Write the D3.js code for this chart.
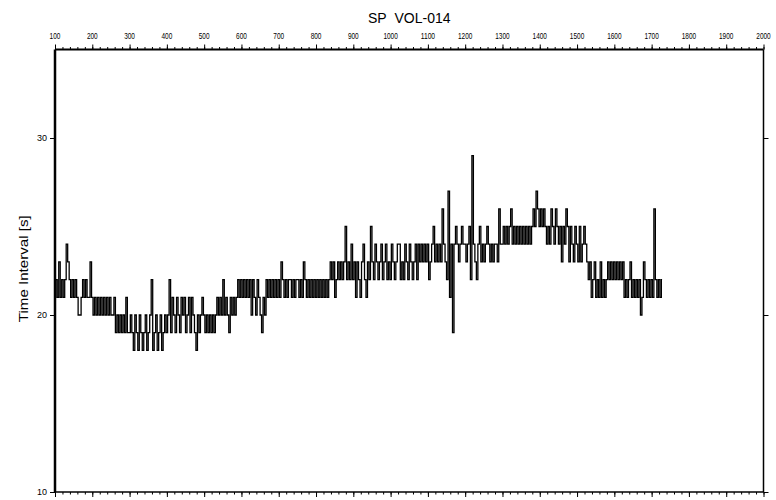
<!DOCTYPE html>
<html>
<head>
<meta charset="utf-8">
<script src="https://cdn.jsdelivr.net/npm/d3@7"></script>
<style>
  html, body { margin: 0; padding: 0; background: #fff; }
  svg { display: block; }
  text { font-family: "Liberation Sans", Arial, Helvetica, sans-serif; fill: #000; }
</style>
</head>
<body>
<svg id="chart" width="776" height="500"></svg>
<script>
// Shot-point spacing of the interval record
const spStart = 100;
const spStep = 4;

// Time interval [s] per sample, one row per 100 shot points
const interval = [
  // 100-196
  21,22,21,23,21,22,21,22,24,23,22,21,22,21,22,21,20,20,21,22,21,22,21,21,23,
  // 200-296
  21,20,21,20,21,20,21,20,21,20,21,20,21,20,20,21,19,20,19,20,19,20,19,21,19,
  // 300-396
  19,20,19,18,20,19,18,20,19,18,19,20,18,19,20,22,18,19,20,18,19,20,18,19,20,
  // 400-496
  19,20,22,19,21,20,19,21,20,19,21,20,21,19,20,21,19,21,20,19,18,20,19,20,21,
  // 500-596
  20,19,20,19,20,19,20,19,20,21,20,21,20,22,20,21,20,19,21,20,21,20,21,22,21,
  // 600-696
  22,21,22,21,22,21,22,20,22,21,20,22,21,20,19,21,20,22,21,22,21,22,21,22,21,
  // 700-796
  22,21,23,22,21,22,21,22,22,21,22,21,22,22,21,22,21,23,22,21,22,21,22,21,22,
  // 800-896
  21,22,21,22,21,22,21,22,21,22,23,22,23,21,22,23,22,23,22,23,25,22,23,22,24,
  // 900-996
  22,23,21,23,22,21,23,24,22,21,23,22,25,23,22,24,23,22,23,24,22,23,24,22,23,
  // 1000-1096
  22,24,23,22,23,24,24,22,23,22,24,23,22,24,23,22,23,24,22,24,23,24,23,24,23,
  // 1100-1196
  24,22,23,24,25,23,24,23,24,23,26,24,23,22,27,21,24,19,24,25,24,23,24,25,24,
  // 1200-1296
  24,23,24,25,22,29,24,23,22,24,25,23,24,23,24,25,24,23,24,23,24,24,23,26,24,
  // 1300-1396
  24,25,24,25,24,25,26,24,25,24,25,24,25,24,25,24,25,24,25,24,25,26,25,27,26,
  // 1400-1496
  25,26,25,26,25,24,25,24,26,25,24,26,25,24,25,23,25,24,26,25,23,25,24,23,25,
  // 1500-1596
  24,23,25,23,24,25,24,23,22,23,21,22,23,21,22,21,23,21,22,21,22,23,22,23,22,
  // 1600-1696
  23,22,23,22,23,22,23,21,22,21,22,23,21,22,21,22,21,22,20,21,23,22,21,22,21,
  // 1700-1728
  22,21,26,22,21,22,21,22
];

const xTickValues = d3.range(100, 2001, 100);
const xMinorValues = d3.range(100, 2001, 20);
const yTickValues = [10, 20, 30];

const title = "SP\u00a0\u00a0VOL-014";
const yLabel = "Time Interval [s]";

const svg = d3.select("#chart");
const frame = { left: 55, right: 763.5, top: 49.5, bottom: 492 };

const x = d3.scaleLinear().domain([100, 2000]).range([frame.left, frame.right]);
const y = d3.scaleLinear().domain([10, 35]).range([frame.bottom, frame.top]);

const samples = interval.map((v, i) => ({ sp: spStart + i * spStep, v }));

// Interval trace, drawn as a stepped record
svg.append("path")
  .datum(samples)
  .attr("fill", "none")
  .attr("stroke", "#000")
  .attr("stroke-width", 1.3)
  .attr("stroke-linejoin", "miter")
  .attr("d", d3.line().curve(d3.curveStep).x(d => x(d.sp)).y(d => y(d.v)));

// Top axis: labelled, with minor ticks
const axisTopG = svg.append("g").attr("transform", `translate(0,${frame.top})`);
axisTopG.call(d3.axisTop(x).tickValues(xMinorValues).tickSize(2.5).tickFormat(""));
axisTopG.append("g").call(d3.axisTop(x).tickValues(xTickValues).tickSize(5).tickFormat(""));
axisTopG.selectAll(".domain").remove();
axisTopG.selectAll("line").attr("stroke", "#000").attr("stroke-width", 1);

svg.append("g").selectAll("text")
  .data(xTickValues)
  .join("text")
  .attr("x", d => x(d))
  .attr("y", 38.5)
  .attr("text-anchor", "middle")
  .attr("font-size", 8.5)
  .attr("textLength", d => String(d).length * 3.6)
  .attr("lengthAdjust", "spacingAndGlyphs")
  .text(d => d);

// Bottom axis: ticks only
const axisBottomG = svg.append("g").attr("transform", `translate(0,${frame.bottom})`);
axisBottomG.call(d3.axisBottom(x).tickValues(xMinorValues).tickSize(2.5).tickFormat(""));
axisBottomG.append("g").call(d3.axisBottom(x).tickValues(xTickValues).tickSize(5).tickFormat(""));
axisBottomG.selectAll(".domain").remove();
axisBottomG.selectAll("line").attr("stroke", "#000").attr("stroke-width", 1);

// Left axis
const axisLeftG = svg.append("g").attr("transform", `translate(${frame.left},0)`);
axisLeftG.call(d3.axisLeft(y).tickValues(yTickValues).tickSize(5).tickPadding(3));
axisLeftG.selectAll(".domain").remove();
axisLeftG.selectAll("line").attr("stroke", "#000");
axisLeftG.selectAll("text")
  .attr("font-family", "Liberation Sans, Arial, sans-serif")
  .attr("font-size", 9)
  .attr("fill", "#000");

// Right axis: ticks only
const axisRightG = svg.append("g").attr("transform", `translate(${frame.right},0)`);
axisRightG.call(d3.axisRight(y).tickValues(yTickValues).tickSize(5).tickFormat(""));
axisRightG.selectAll(".domain").remove();
axisRightG.selectAll("line").attr("stroke", "#000");

// Frame
svg.append("line").attr("x1", frame.left).attr("x2", frame.left)
  .attr("y1", frame.top).attr("y2", frame.bottom)
  .attr("stroke", "#000").attr("stroke-width", 2.5);
svg.append("line").attr("x1", frame.left).attr("x2", frame.right)
  .attr("y1", frame.top).attr("y2", frame.top)
  .attr("stroke", "#000").attr("stroke-width", 2);
svg.append("line").attr("x1", frame.right).attr("x2", frame.right)
  .attr("y1", frame.top).attr("y2", frame.bottom)
  .attr("stroke", "#000").attr("stroke-width", 1.5);
svg.append("line").attr("x1", frame.left).attr("x2", frame.right)
  .attr("y1", frame.bottom).attr("y2", frame.bottom)
  .attr("stroke", "#000").attr("stroke-width", 1.5);

// Title
svg.append("text")
  .attr("x", (frame.left + frame.right) / 2)
  .attr("y", 23)
  .attr("text-anchor", "middle")
  .attr("font-size", 14)
  .text(title);

// Y-axis label
svg.append("text")
  .attr("transform", `translate(27.5,${(frame.top + frame.bottom) / 2 - 2}) rotate(-90)`)
  .attr("text-anchor", "middle")
  .attr("font-size", 13.5)
  .attr("textLength", 107)
  .attr("lengthAdjust", "spacingAndGlyphs")
  .text(yLabel);
</script>
</body>
</html>
